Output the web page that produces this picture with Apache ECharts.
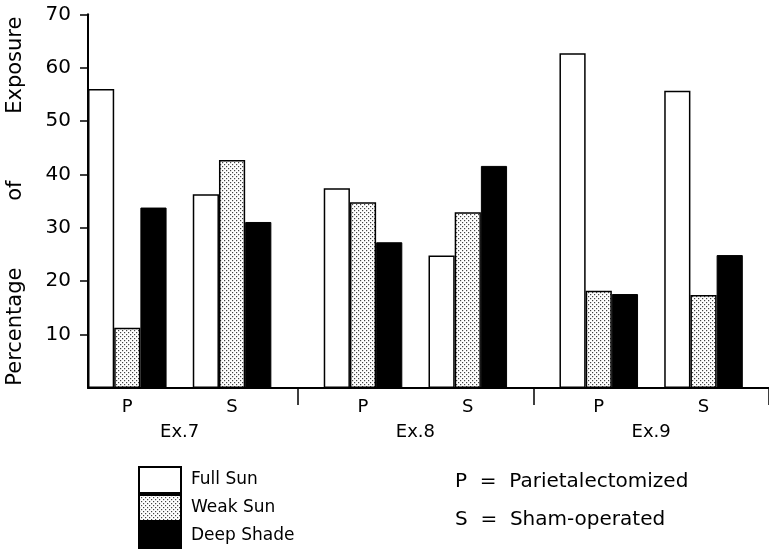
<!DOCTYPE html>
<html>
<head>
<meta charset="utf-8">
<script src="https://cdn.jsdelivr.net/npm/echarts@6/dist/echarts.min.js"></script>
<style>
  html, body { margin: 0; padding: 0; background: #fff; }
  #chart { width: 769px; height: 549px; }
</style>
</head>
<body>
<div id="chart"></div>
<script>
// ---- data ----
const experiments = ['Ex.7', 'Ex.8', 'Ex.9'];
const treatments = ['P', 'S'];
const seriesNames = ['Full Sun', 'Weak Sun', 'Deep Shade'];
// values in order: Ex.7 P, Ex.7 S, Ex.8 P, Ex.8 S, Ex.9 P, Ex.9 S
const fullSun   = [56.0, 36.3, 37.4, 24.8, 62.7, 55.7];
const weakSun   = [11.3, 42.7, 34.8, 32.9, 18.2, 17.4];
const deepShade = [33.8, 31.1, 27.3, 41.6, 17.6, 24.9];
const yTicks = [10, 20, 30, 40, 50, 60, 70];
const notes = ['P  =  Parietalectomized', 'S  =  Sham-operated'];

const FONT = 'DejaVu Sans';
const values = [fullSun, weakSun, deepShade];

// ---- build slot layout (one category slot per bar, with spacer slots) ----
const slots = [];          // category keys
const slotSub = {};        // key -> treatment label (middle slot of trio)
const slotExp = {};        // key -> experiment label (spacer between P and S)
const separators = [];     // slot indices where group separator tick goes
const seriesData = values.map(() => []);
let cell = 0;
experiments.forEach((ex, gi) => {
  treatments.forEach((tr, ti) => {
    values.forEach((arr, si) => {
      const key = ex + '|' + tr + '|' + si;
      slots.push(key);
      if (si === 1) slotSub[key] = tr;
      values.forEach((a2, sj) => seriesData[sj].push(sj === si ? arr[cell] : '-'));
    });
    cell++;
    const nGap = ti === 0 ? 1 : (gi < experiments.length - 1 ? 2 : 1);
    for (let g = 0; g < nGap; g++) {
      const key = ex + '|' + tr + '|gap' + g;
      slots.push(key);
      if (ti === 0) slotExp[key] = ex;
      if (ti === 1 && g === 1) separators.push(slots.length - 1);
      seriesData.forEach(d => d.push('-'));
    }
  });
});

// dotted (stipple) pattern for Weak Sun
const pc = document.createElement('canvas');
pc.width = 4; pc.height = 4;
const pctx = pc.getContext('2d');
pctx.fillStyle = '#fff'; pctx.fillRect(0, 0, 4, 4);
pctx.fillStyle = '#444';
pctx.fillRect(0, 0, 1.2, 1.2);
pctx.fillRect(2, 2, 1.2, 1.2);
const stipple = { image: pc, repeat: 'repeat' };

const styles = [
  { color: '#fff', borderColor: '#000', borderWidth: 1.5 },
  { color: stipple, borderColor: '#000', borderWidth: 1.5 },
  { color: '#000', borderColor: '#000', borderWidth: 1 }
];

const chart = echarts.init(document.getElementById('chart'), null, { renderer: 'canvas' });
chart.setOption({
  animation: false,
  backgroundColor: '#fff',
  textStyle: { fontFamily: FONT, color: '#000' },
  grid: { left: 88, right: 0, top: 14.3, bottom: 161, containLabel: false, outerBoundsMode: 'none' },
  legend: {
    data: seriesNames,
    orient: 'vertical',
    left: 138, top: 466, height: 200,
    padding: 0,
    itemWidth: 42, itemHeight: 26, itemGap: 0,
    icon: 'rect',
    selectedMode: false,
    textStyle: { fontFamily: FONT, fontSize: 17, color: '#000', padding: [0, 0, 0, 5] }
  },
  xAxis: [
    {
      type: 'category',
      data: slots,
      boundaryGap: true,
      axisLine: { lineStyle: { color: '#000', width: 2 } },
      axisTick: {
        show: true, length: 17, inside: false,
        interval: (idx) => separators.indexOf(idx) > -1,
        lineStyle: { color: '#000', width: 1.5 }
      },
      axisLabel: {
        interval: 0, margin: 10,
        fontFamily: FONT, fontSize: 18, color: '#000',
        formatter: (v) => slotSub[v] || ''
      },
      splitLine: { show: false }
    },
    {
      type: 'category',
      data: slots,
      position: 'bottom',
      offset: 25,
      axisLine: { show: false },
      axisTick: { show: false },
      axisLabel: {
        interval: 0, margin: 10,
        fontFamily: FONT, fontSize: 18, color: '#000',
        formatter: (v) => slotExp[v] || ''
      }
    }
  ],
  yAxis: {
    type: 'value',
    min: 0, max: 70, interval: 10,
    name: 'Percentage' + ' '.repeat(10) + 'of' + ' '.repeat(10) + 'Exposure',
    nameLocation: 'middle',
    nameGap: 62,
    nameTextStyle: { fontFamily: FONT, fontSize: 21, color: '#000' },
    axisLine: { show: true, lineStyle: { color: '#000', width: 2 } },
    axisTick: { show: true, length: 8, inside: false, customValues: yTicks, lineStyle: { color: '#000', width: 1.5 } },
    axisLabel: { margin: 17, fontFamily: FONT, fontSize: 20, color: '#000', customValues: yTicks },
    splitLine: { show: false }
  },
  series: seriesNames.map((name, i) => ({
    name: name,
    type: 'bar',
    stack: 'slot',
    xAxisIndex: 0,
    barCategoryGap: '0%',
    data: seriesData[i],
    itemStyle: styles[i],
    emphasis: { disabled: true }
  })),
  graphic: notes.map((t, i) => ({
    type: 'text',
    left: 455,
    top: 472 + i * 38,
    style: { text: t, font: '20px "DejaVu Sans"', fill: '#000' }
  }))
});
</script>
</body>
</html>
